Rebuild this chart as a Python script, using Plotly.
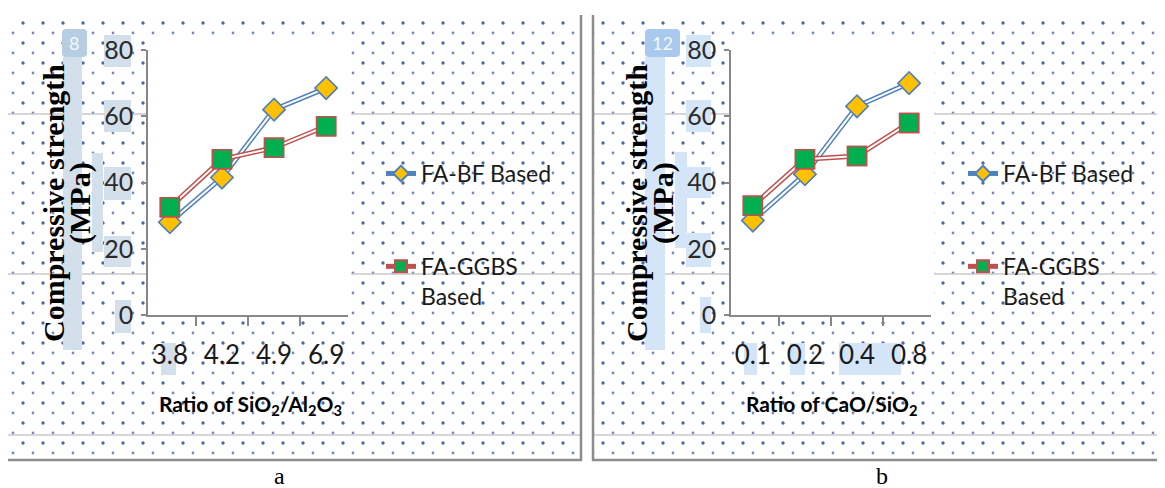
import base64
import plotly.graph_objects as go

# ---------------- data ----------------
categories_a = ["3.8", "4.2", "4.9", "6.9"]
bf_a = [28, 41.5, 62, 68.5]
ggbs_a = [32.5, 47, 50.5, 57]

categories_b = ["0.1", "0.2", "0.4", "0.8"]
bf_b = [28.5, 42.5, 63, 70]
ggbs_b = [33, 47, 48, 58]

series_names = ["FA-BF Based", "FA-GGBS<br>Based"]
y_ticks = [0, 20, 40, 60, 80]

# page body has an 8px default margin: the figure is drawn at (8, 8)
OFF = 8
W, H = 1165 - OFF, 488 - OFF

# ---------------- decorative background (scanned page look) ----------------
def box(x0, y0, x1, y1, color, rx=0):
    return f'<rect x="{x0}" y="{y0}" width="{x1-x0}" height="{y1-y0}" rx="{rx}" fill="{color}"/>'

ca = "#d3dfea"
cb = "#d4e5f8"
svg_parts = [
    f'<svg xmlns="http://www.w3.org/2000/svg" width="{W}" height="{H}" viewBox="0 0 {W} {H}" preserveAspectRatio="none">',
    '<defs><pattern id="p" patternUnits="userSpaceOnUse" width="20" height="20">'
    '<circle cx="3" cy="3" r="1.7" fill="#2f4d96" fill-opacity="0.85"/>'
    '<circle cx="13" cy="13" r="1.4" fill="#4663a8" fill-opacity="0.75"/>'
    '</pattern></defs>',
    f'<g transform="translate({-OFF},{-OFF})">',
    '<rect x="8" y="18" width="573" height="442" fill="url(#p)"/>',
    '<rect x="593" y="18" width="570" height="442" fill="url(#p)"/>',
]
for yy in (114, 274, 435):
    svg_parts.append(f'<line x1="8" y1="{yy}" x2="581" y2="{yy}" stroke="#c9c9c9" stroke-width="1.5"/>')
    svg_parts.append(f'<line x1="593" y1="{yy}" x2="1163" y2="{yy}" stroke="#c9c9c9" stroke-width="1.5"/>')
# highlight boxes panel a
svg_parts += [
    box(63, 57, 82, 350, ca), box(92, 153, 103, 252, ca),
    box(104, 35, 131, 67, ca), box(104, 100, 131, 132, ca), box(104, 167, 131, 200, ca),
    box(104, 236, 131, 267, ca), box(115, 300, 131, 333, ca), box(161, 343, 176, 375, ca),
    box(62, 29, 87, 57, "#b7cde1", 4),
]
# highlight boxes panel b
svg_parts += [
    box(645, 57, 665, 350, cb), box(675, 152, 687, 248, cb),
    box(686, 35, 711, 67, cb), box(686, 100, 711, 132, cb), box(687, 167, 711, 198, cb),
    box(686, 233, 711, 267, cb), box(700, 297, 711, 333, cb),
    box(744, 343, 757, 375, cb), box(790, 343, 805, 375, cb), box(839, 343, 901, 375, cb),
    box(645, 29, 680, 57, "#a9caee", 4),
]
# panel frames
svg_parts += [
    '<line x1="581" y1="15" x2="581" y2="461" stroke="#8c8c8c" stroke-width="2.5"/>',
    '<line x1="8" y1="460" x2="582" y2="460" stroke="#8c8c8c" stroke-width="2.5"/>',
    '<line x1="593" y1="15" x2="593" y2="461" stroke="#8c8c8c" stroke-width="2.5"/>',
    '<line x1="592" y1="460" x2="1165" y2="460" stroke="#8c8c8c" stroke-width="2.5"/>',
]
svg_parts.append('</g></svg>')
svg = "".join(svg_parts)
bg_src = "data:image/svg+xml;base64," + base64.b64encode(svg.encode()).decode()

# ---------------- figure ----------------
def px(x):  # screen pixel -> paper fraction
    return (x - OFF) / W

def py(y):
    return 1 - (y - OFF) / H

fig = go.Figure()

blue, red = "#4f81bd", "#c0504d"

def add_series(cats, vals, name, xa, ya, legend, color, sym, fill, msize):
    fig.add_trace(go.Scatter(
        x=cats, y=vals, name=name, mode="lines+markers", xaxis=xa, yaxis=ya,
        legend=legend, legendgroup=legend + name,
        line=dict(color=color, width=5),
        marker=dict(symbol=sym, size=msize, color=fill, line=dict(color=color, width=1.5)),
    ))
    fig.add_trace(go.Scatter(
        x=cats, y=vals, mode="lines", xaxis=xa, yaxis=ya, showlegend=False,
        line=dict(color="white", width=2), hoverinfo="skip",
    ))
    fig.add_trace(go.Scatter(
        x=cats, y=vals, mode="markers", xaxis=xa, yaxis=ya, showlegend=False,
        marker=dict(symbol=sym, size=msize, color=fill, line=dict(color=color, width=1.5)),
    ))

add_series(categories_a, bf_a, series_names[0], "x", "y", "legend", blue, "diamond", "#ffc000", 17)
add_series(categories_a, ggbs_a, series_names[1], "x", "y", "legend", red, "square", "#00b050", 19)
add_series(categories_b, bf_b, series_names[0], "x2", "y2", "legend2", blue, "diamond", "#ffc000", 17)
add_series(categories_b, ggbs_b, series_names[1], "x2", "y2", "legend2", red, "square", "#00b050", 19)

sans = "Lato, Open Sans, sans-serif"
axis_col = "#878787"

xcommon = dict(type="category", showgrid=False, zeroline=False, showline=True, linecolor=axis_col,
               linewidth=1.5, ticks="outside", tickson="boundaries", ticklen=9, tickcolor=axis_col,
               tickwidth=1.5, tickfont=dict(family=sans, size=26, color="#1a1a1a"),
               ticklabelstandoff=16, fixedrange=True, automargin=False)
ycommon = dict(range=[0, 80], tickvals=y_ticks, showgrid=False, zeroline=False, showline=True,
               linecolor=axis_col, linewidth=1.5, ticks="outside", ticklen=5, tickcolor=axis_col,
               tickwidth=1.5, tickfont=dict(family=sans, size=25, color="#2a2a2a"),
               ticklabelstandoff=3, fixedrange=True, automargin=False)

legend_common = dict(xanchor="left", yanchor="top", bgcolor="rgba(0,0,0,0)",
                     font=dict(family=sans, size=23, color="#1a1a1a"), tracegroupgap=60,
                     valign="top", itemsizing="constant")

fig.update_layout(
    width=W, height=H, margin=dict(l=0, r=0, t=0, b=0, pad=0, autoexpand=False),
    paper_bgcolor="white", plot_bgcolor="rgba(0,0,0,0)",
    xaxis=dict(domain=[px(148), px(348)], anchor="y", **xcommon),
    yaxis=dict(domain=[py(315), py(50)], anchor="x", **ycommon),
    xaxis2=dict(domain=[px(731), px(931)], anchor="y2", **xcommon),
    yaxis2=dict(domain=[py(315), py(50)], anchor="x2", **ycommon),
    legend=dict(x=px(381), y=py(152), **legend_common),
    legend2=dict(x=px(963), y=py(152), **legend_common),
    images=[dict(source=bg_src, xref="paper", yref="paper", x=0, y=1, sizex=1, sizey=1,
                 sizing="stretch", xanchor="left", yanchor="top", layer="below")],
    shapes=[
        dict(type="rect", xref="paper", yref="paper", x0=px(148), x1=px(351), y0=py(315), y1=py(40),
             fillcolor="white", line=dict(width=0), layer="below"),
        dict(type="rect", xref="paper", yref="paper", x0=px(731), x1=px(934), y0=py(315), y1=py(40),
             fillcolor="white", line=dict(width=0), layer="below"),
    ],
    showlegend=True,
)

serif = "Liberation Serif, Times New Roman, serif"
ann = []
for xc, badge, bx in ((53, "8", 74), (636, "12", 662)):
    ann.append(dict(text="<b>Compressive strength</b>", x=px(xc), y=py(203), xref="paper", yref="paper",
                    textangle=-90, showarrow=False, font=dict(family=serif, size=30, color="black"),
                    xanchor="center", yanchor="middle"))
    ann.append(dict(text="<b>(MPa)</b>", x=px(xc + 27), y=py(203), xref="paper", yref="paper",
                    textangle=-90, showarrow=False, font=dict(family=serif, size=30, color="black"),
                    xanchor="center", yanchor="middle"))
    ann.append(dict(text=badge, x=px(bx), y=py(43), xref="paper", yref="paper", showarrow=False,
                    font=dict(family=sans, size=18, color="#f4f8fc"), xanchor="center", yanchor="middle"))

title_font = dict(family=sans, size=21, color="black")
ann.append(dict(text="<b>Ratio of SiO<sub>2</sub>/Al<sub>2</sub>O<sub>3</sub></b>", x=px(250), y=py(405),
                xref="paper", yref="paper", showarrow=False, font=title_font,
                xanchor="center", yanchor="middle"))
ann.append(dict(text="<b>Ratio of CaO/SiO<sub>2</sub></b>", x=px(831), y=py(405),
                xref="paper", yref="paper", showarrow=False, font=title_font,
                xanchor="center", yanchor="middle"))
ann.append(dict(text="a", x=px(279), y=py(476), xref="paper", yref="paper", showarrow=False,
                font=dict(family=serif, size=24, color="black"), xanchor="center", yanchor="middle"))
ann.append(dict(text="b", x=px(882), y=py(476), xref="paper", yref="paper", showarrow=False,
                font=dict(family=serif, size=24, color="black"), xanchor="center", yanchor="middle"))
fig.update_layout(annotations=ann)

fig.write_html("out.html")
